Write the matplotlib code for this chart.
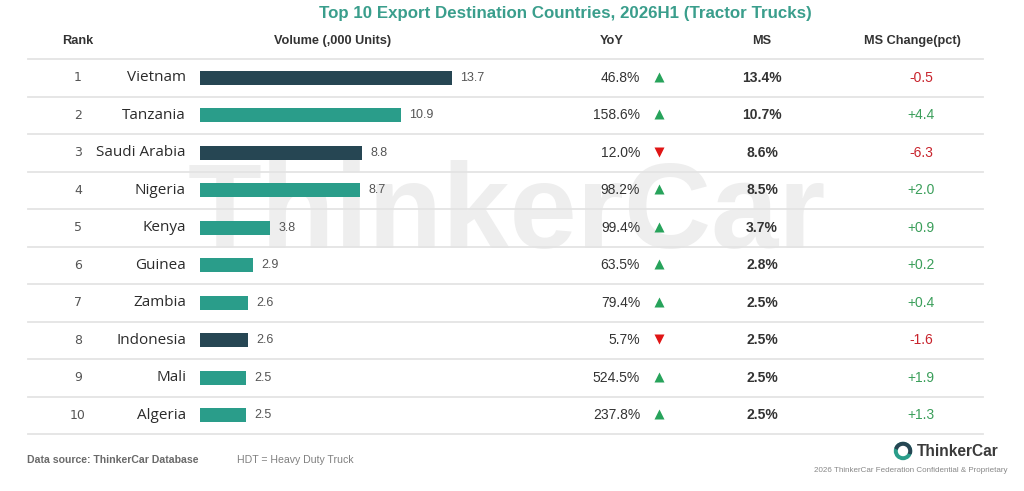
import matplotlib
matplotlib.use("Agg")
import matplotlib.pyplot as plt
from matplotlib.patches import Circle, Wedge

ranks = ["1", "2", "3", "4", "5", "6", "7", "8", "9", "10"]
countries = ["Vietnam", "Tanzania", "Saudi Arabia", "Nigeria", "Kenya",
             "Guinea", "Zambia", "Indonesia", "Mali", "Algeria"]
volume = [13.7, 10.9, 8.8, 8.7, 3.8, 2.9, 2.6, 2.6, 2.5, 2.5]
yoy = ["46.8%", "158.6%", "12.0%", "98.2%", "99.4%", "63.5%", "79.4%", "5.7%", "524.5%", "237.8%"]
yoy_up = [True, True, False, True, True, True, True, False, True, True]
ms = ["13.4%", "10.7%", "8.6%", "8.5%", "3.7%", "2.8%", "2.5%", "2.5%", "2.5%", "2.5%"]
ms_change = ["-0.5", "+4.4", "-6.3", "+2.0", "+0.9", "+0.2", "+0.4", "-1.6", "+1.9", "+1.3"]
dark_bar = [True, False, True, False, False, False, False, True, False, False]

W, H = 1024, 491
fig = plt.figure(figsize=(W / 100, H / 100), dpi=100)
fig.patch.set_facecolor("white")

# full-figure axes in pixel coordinates for layout/text
ax = fig.add_axes([0, 0, 1, 1])
ax.set_xlim(0, W)
ax.set_ylim(H, 0)
ax.axis("off")

FONT = "Liberation Sans"
top, rowh = 59, 37.5
n = len(countries)

# watermark
ax.text(507, 248, "ThinkerCar", fontsize=87, fontweight="bold", family=FONT,
        color="#eeeeee", ha="center", va="baseline", zorder=0)

# title
ax.text(565, 13, "Top 10 Export Destination Countries, 2026H1 (Tractor Trucks)",
        fontsize=12.2, fontweight="bold", family=FONT, color="#3a9e8c",
        ha="center", va="center")

# headers
hdr = dict(fontsize=9.2, fontweight="bold", family=FONT, color="#333333", va="center")
ax.text(78, 41, "Rank", ha="center", **hdr)
ax.text(333, 41, "Volume (,000 Units)", ha="center", **hdr)
ax.text(612, 41, "YoY", ha="center", **hdr)
ax.text(762, 41, "MS", ha="center", **hdr)
ax.text(912, 41, "MS Change(pct)", ha="center", **hdr)

# separator lines
for i in range(n + 1):
    y = top + rowh * i
    ax.plot([28, 983], [y, y], color="#e4e4e4", lw=1.3, zorder=1)

for i in range(n):
    yc = top + rowh * (i + 0.5)
    ax.text(78, yc, ranks[i], fontsize=9, family="DejaVu Sans", color="#555555",
            ha="center", va="center")
    ax.text(186, yc, countries[i], fontsize=11, family="Open Sans", color="#2b2b2b",
            ha="right", va="center")
    ax.text(640, yc, yoy[i], fontsize=10, family=FONT, color="#333333",
            ha="right", va="center")
    ax.plot(659, yc - 1, marker="^" if yoy_up[i] else "v", ms=7,
            color="#27a35b" if yoy_up[i] else "#e01515", mec="none")
    ax.text(762, yc, ms[i], fontsize=10, fontweight="bold", family=FONT,
            color="#333333", ha="center", va="center")
    neg = ms_change[i].startswith("-")
    ax.text(921, yc, ms_change[i], fontsize=10, family=FONT,
            color="#c8232c" if neg else "#3a9e5a", ha="center", va="center")

# bar axes
unit_px = 18.4
xmax = 16
bax = fig.add_axes([200 / W, 1 - (top + rowh * n) / H, xmax * unit_px / W, rowh * n / H])
bax.set_xlim(0, xmax)
bax.set_ylim(n - 0.5, -0.5)
bax.axis("off")
bax.patch.set_alpha(0)
colors = ["#264653" if d else "#2a9d8a" for d in dark_bar]
bax.barh(range(n), volume, height=0.37, color=colors, zorder=2)
for i, v in enumerate(volume):
    bax.text(v + 0.45, i, f"{v:.1f}", fontsize=9, family=FONT,
             color="#555555", ha="left", va="center")

# footer
ax.text(27, 460, "Data source: ThinkerCar Database", fontsize=7.6, fontweight="bold",
        family=FONT, color="#6a6a6a", ha="left", va="center")
ax.text(237, 460, "HDT = Heavy Duty Truck", fontsize=7.6, family=FONT,
        color="#808080", ha="left", va="center")

# logo
ax.add_patch(Circle((903, 451), 8.5, color="#2a9d8a", zorder=3))
ax.add_patch(Wedge((903, 451), 8.5, 200, 380, color="#264653", zorder=3))
ax.add_patch(Circle((903, 451), 4.5, color="white", zorder=4))
ax.text(917, 451, "ThinkerCar", fontsize=11.2, fontweight="bold", family=FONT,
        color="#3a3a3a", ha="left", va="center")
ax.text(1007, 471, "2026 ThinkerCar Federation Confidential & Proprietary",
        fontsize=5.8, family=FONT, color="#888888",
        ha="right", va="center")

fig.savefig("out.png", dpi=100, facecolor="white")
